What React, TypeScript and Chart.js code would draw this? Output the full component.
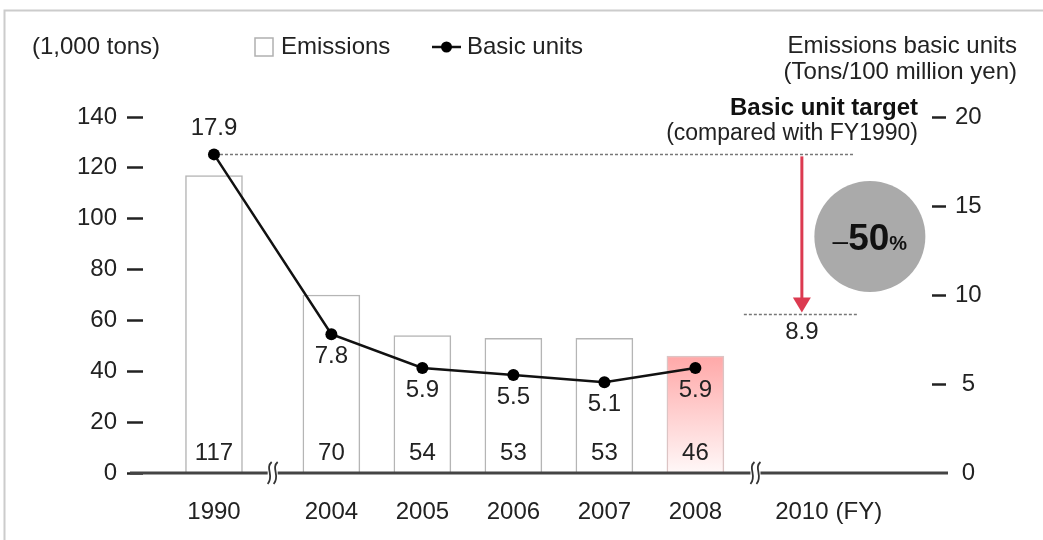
import React, { useEffect, useRef } from 'react';
import { Chart, registerables } from 'chart.js';

Chart.register(...registerables);

// ---------------- data ----------------
const years = ['1990', '2004', '2005', '2006', '2007', '2008', '2010'];
const emissions: (number | null)[] = [117, 70, 54, 53, 53, 46, null];
const basicUnits: (number | null)[] = [17.9, 7.8, 5.9, 5.5, 5.1, 5.9, null];
const baseUnit = 17.9;
const targetUnit = 8.9;
const reductionText = ['–', '50', '%'];
const highlightYear = '2008';
const targetYear = '2010';
const leftAxisTitle = '(1,000 tons)';
const rightAxisTitle = ['Emissions basic units', '(Tons/100 million yen)'];
const legendLabels = ['Emissions', 'Basic units'];
const targetTitle = ['Basic unit target', '(compared with FY1990)'];
const fiscalSuffix = '(FY)';
const leftAxisRange = [0, 140, 20];
const rightAxisRange = [0, 20, 5];

// ---------------- layout helpers ----------------
const FONT = "'Liberation Sans', Arial, Helvetica, sans-serif";
const TEXT = '#222';
const BREAK_GAPS = [
  { after: 0, extra: 0.29 },
  { after: 5, extra: 0.17 },
];
const slot = (i: number) =>
  i + BREAK_GAPS.reduce((s, g) => s + (i > g.after ? g.extra : 0), 0);
const breakMarks = [(slot(0) + slot(1)) / 2, slot(5) + 0.66];

const font = (size: number, bold = false) => `${bold ? 'bold ' : ''}${size}px ${FONT}`;

const barFill = (c: any) => {
  if (years[c.dataIndex] !== highlightYear) return '#ffffff';
  const chart = c.chart;
  const area = chart.chartArea;
  if (!area || !chart.scales.y) return '#ffc8c8';
  const v = emissions[c.dataIndex] ?? 0;
  const top = chart.scales.y.getPixelForValue(v);
  const g = chart.ctx.createLinearGradient(0, top, 0, area.bottom);
  g.addColorStop(0, '#ffa8a8');
  g.addColorStop(1, '#fff8f8');
  return g;
};

const decor = {
  id: 'decor',
  beforeDraw(chart: any) {
    const { ctx, width, height } = chart;
    ctx.save();
    ctx.fillStyle = '#fff';
    ctx.fillRect(0, 0, width, height);
    // frame
    ctx.strokeStyle = '#cccccc';
    ctx.lineWidth = 2;
    ctx.beginPath();
    ctx.moveTo(4.5, height);
    ctx.lineTo(4.5, 10.5);
    ctx.lineTo(width, 10.5);
    ctx.stroke();

    // header texts
    ctx.fillStyle = TEXT;
    ctx.font = font(24);
    ctx.textBaseline = 'middle';
    ctx.textAlign = 'left';
    ctx.fillText(leftAxisTitle, 32, 47);

    // legend: emissions box
    ctx.fillStyle = '#fff';
    ctx.fillRect(255, 38, 18, 18);
    ctx.strokeStyle = '#b0b0b0';
    ctx.lineWidth = 1.5;
    ctx.strokeRect(255, 38, 18, 18);
    ctx.fillStyle = TEXT;
    ctx.fillText(legendLabels[0], 281, 47);
    // legend: line symbol
    ctx.strokeStyle = '#111';
    ctx.lineWidth = 2.5;
    ctx.beginPath();
    ctx.moveTo(432, 47);
    ctx.lineTo(461, 47);
    ctx.stroke();
    ctx.fillStyle = '#000';
    ctx.beginPath();
    ctx.arc(446.5, 47, 5.5, 0, Math.PI * 2);
    ctx.fill();
    ctx.fillStyle = TEXT;
    ctx.fillText(legendLabels[1], 467, 47);

    // right axis title
    ctx.textAlign = 'right';
    ctx.fillText(rightAxisTitle[0], 1017, 46);
    ctx.fillText(rightAxisTitle[1], 1017, 72);
    ctx.restore();
  },
  afterDatasetsDraw(chart: any) {
    const { ctx, chartArea } = chart;
    const xs = chart.scales.x;
    const y1 = chart.scales.y1;
    const barMeta = chart.getDatasetMeta(1);
    const lineMeta = chart.getDatasetMeta(0);
    ctx.save();

    // x axis line
    const yb = chartArea.bottom;
    ctx.strokeStyle = '#444';
    ctx.lineWidth = 3;
    ctx.beginPath();
    ctx.moveTo(chartArea.left - 13, yb);
    ctx.lineTo(chartArea.right + 16, yb);
    ctx.stroke();

    // break marks
    breakMarks.forEach((v) => {
      const bx = xs.getPixelForValue(v);
      ctx.fillStyle = '#fff';
      ctx.fillRect(bx - 5, yb - 3, 10, 6);
      ctx.strokeStyle = '#333';
      ctx.lineWidth = 1.8;
      [-3, 3].forEach((d) => {
        const cx = bx + d;
        ctx.beginPath();
        ctx.moveTo(cx + 2, yb - 11);
        ctx.bezierCurveTo(cx - 5, yb - 5, cx + 5, yb + 3, cx - 2, yb + 11);
        ctx.stroke();
      });
    });

    ctx.fillStyle = TEXT;
    ctx.font = font(24);
    ctx.textAlign = 'center';
    ctx.textBaseline = 'middle';

    // bar value labels
    barMeta.data.forEach((el: any, i: number) => {
      const v = emissions[i];
      if (v == null) return;
      ctx.fillText(String(v), el.x, chartArea.bottom - 20);
    });

    // line value labels
    lineMeta.data.forEach((el: any, i: number) => {
      const v = basicUnits[i];
      if (v == null) return;
      const dy = i === 0 ? -26 : 22;
      ctx.fillText(v.toFixed(1), el.x, el.y + dy);
    });

    // target annotation
    const ti = years.indexOf(targetYear);
    const xT = xs.getPixelForValue(slot(ti));
    const yBase = y1.getPixelForValue(baseUnit);
    const yTarget = y1.getPixelForValue(targetUnit);
    const x0 = lineMeta.data[0].x;

    ctx.strokeStyle = '#777';
    ctx.lineWidth = 1.5;
    ctx.setLineDash([3, 2]);
    ctx.beginPath();
    ctx.moveTo(x0 + 6, yBase);
    ctx.lineTo(xT + 52, yBase);
    ctx.moveTo(xT - 58, yTarget);
    ctx.lineTo(xT + 57, yTarget);
    ctx.stroke();
    ctx.setLineDash([]);

    // red arrow
    ctx.strokeStyle = '#dc3a50';
    ctx.fillStyle = '#dc3a50';
    ctx.lineWidth = 3;
    ctx.beginPath();
    ctx.moveTo(xT, yBase + 2);
    ctx.lineTo(xT, yTarget - 15);
    ctx.stroke();
    ctx.beginPath();
    ctx.moveTo(xT - 9, yTarget - 17);
    ctx.lineTo(xT + 9, yTarget - 17);
    ctx.lineTo(xT, yTarget - 2);
    ctx.closePath();
    ctx.fill();

    ctx.fillStyle = TEXT;
    ctx.font = font(24);
    ctx.fillText(targetUnit.toFixed(1), xT, yTarget + 18);

    // target title
    ctx.textAlign = 'right';
    ctx.font = font(24, true);
    ctx.fillStyle = '#111';
    ctx.fillText(targetTitle[0], chartArea.right - 14, 108);
    ctx.font = font(23);
    ctx.fillStyle = TEXT;
    ctx.fillText(targetTitle[1], chartArea.right - 14, 134);

    // grey circle
    const cx = xT + 68;
    const cy = (yBase + yTarget) / 2 + 2;
    ctx.fillStyle = '#aaaaaa';
    ctx.beginPath();
    ctx.arc(cx, cy, 55.5, 0, Math.PI * 2);
    ctx.fill();

    const parts = [
      { t: reductionText[0], f: font(28) },
      { t: reductionText[1], f: font(37, true) },
      { t: reductionText[2], f: font(20, true) },
    ];
    let total = 0;
    const widths = parts.map((p) => {
      ctx.font = p.f;
      const w = ctx.measureText(p.t).width;
      total += w;
      return w;
    });
    let px = cx - total / 2;
    ctx.textAlign = 'left';
    ctx.textBaseline = 'alphabetic';
    ctx.fillStyle = '#111';
    parts.forEach((p, i) => {
      ctx.font = p.f;
      ctx.fillText(p.t, px, cy + 14);
      px += widths[i];
    });

    // "(FY)" suffix after the last year label
    ctx.font = font(24);
    ctx.textBaseline = 'middle';
    ctx.fillStyle = TEXT;
    const wYear = ctx.measureText(targetYear).width;
    ctx.fillText(fiscalSuffix, xT + wYear / 2 + 7, chartArea.bottom + 25 + 14.4);

    ctx.restore();
  },
};

export default function App() {
  const ref = useRef<HTMLCanvasElement>(null);
  useEffect(() => {
    const canvas = ref.current!;
    const chart = new Chart(canvas, {
      type: 'bar',
      data: {
        datasets: [
          {
            type: 'line',
            label: legendLabels[1],
            data: years.map((_, i) => ({ x: slot(i), y: basicUnits[i] })) as any,
            yAxisID: 'y1',
            xAxisID: 'x',
            order: 0,
            borderColor: '#111',
            borderWidth: 2.5,
            pointRadius: 6,
            pointHoverRadius: 6,
            pointBackgroundColor: '#000',
            pointBorderColor: '#000',
            pointBorderWidth: 0,
            tension: 0,
            fill: false,
          } as any,
          {
            type: 'bar',
            label: legendLabels[0],
            data: years.map((_, i) => ({ x: slot(i), y: emissions[i] })) as any,
            yAxisID: 'y',
            xAxisID: 'x',
            order: 1,
            barThickness: 57,
            backgroundColor: barFill,
            borderColor: (c: any) => (years[c.dataIndex] === highlightYear ? '#dcc4c4' : '#b5b5b5'),
            borderWidth: 1.5,
            borderSkipped: 'bottom',
          } as any,
        ],
      },
      options: {
        animation: false,
        responsive: true,
        maintainAspectRatio: false,
        events: [],
        layout: { padding: { top: 117, left: 0, right: 0, bottom: 0 } },
        plugins: { legend: { display: false }, tooltip: { enabled: false } },
        scales: {
          x: {
            type: 'linear',
            min: -0.78,
            max: 7.89,
            offset: false,
            grid: { display: false, drawTicks: false },
            border: { display: false },
            afterBuildTicks: (s: any) => {
              s.ticks = years.map((_, i) => ({ value: slot(i) }));
            },
            ticks: {
              autoSkip: false,
              maxRotation: 0,
              padding: 25,
              color: TEXT,
              font: { family: FONT, size: 24 },
              callback: (_v: any, i: number) => years[i],
            },
            afterFit: (s: any) => {
              s.height = 67;
            },
          } as any,
          y: {
            position: 'left',
            min: leftAxisRange[0],
            max: leftAxisRange[1],
            grid: {
              drawOnChartArea: false,
              drawTicks: true,
              tickLength: 16,
              tickWidth: 2.5,
              tickColor: '#222',
            },
            border: { display: false },
            ticks: {
              stepSize: leftAxisRange[2],
              padding: 10,
              color: TEXT,
              font: { family: FONT, size: 24 },
            },
            afterFit: (s: any) => {
              s.width = 143;
            },
          } as any,
          y1: {
            position: 'right',
            min: rightAxisRange[0],
            max: rightAxisRange[1],
            grid: {
              drawOnChartArea: false,
              drawTicks: true,
              tickLength: 14,
              tickWidth: 2.5,
              tickColor: (c: any) => (c.tick && c.tick.value === 0 ? 'rgba(0,0,0,0)' : '#222'),
            },
            border: { display: false },
            ticks: {
              stepSize: rightAxisRange[2],
              padding: 9,
              crossAlign: 'center',
              color: TEXT,
              font: { family: FONT, size: 24 },
            },
            afterFit: (s: any) => {
              s.width = 111;
            },
          } as any,
        },
      },
      plugins: [decor],
    });
    return () => chart.destroy();
  }, []);

  return (
    <div style={{ position: 'absolute', left: 0, top: 0, width: 1043, height: 540, background: '#fff' }}>
      <canvas ref={ref} />
    </div>
  );
}
